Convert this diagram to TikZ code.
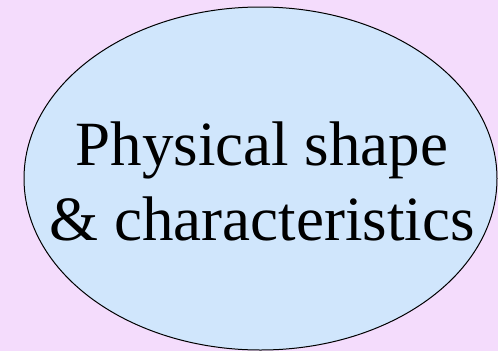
\documentclass[tikz,border=0pt]{standalone}
\usepackage{fontspec}
\setmainfont{Liberation Serif}
\usetikzlibrary{shapes.geometric}
\definecolor{bgpink}{RGB}{244,220,252}
\definecolor{ellblue}{RGB}{208,230,252}
\begin{document}
\begin{tikzpicture}[x=1pt,y=-1pt,
  bubble/.style={ellipse, draw=black, line width=1pt, fill=ellblue, inner sep=0pt, minimum width=473pt, minimum height=343pt},
  label/.style={anchor=base, inner sep=0pt, font=\fontsize{63}{75}\selectfont}]
\fill[bgpink] (0,0) rectangle (498,351);
\useasboundingbox (0,0) rectangle (498,351);
\node[bubble] (e) at (260.5,178.5) {};
\node[label] (l1) at (262,165) {Physical shape};
\node[label] (l2) at (262,240) {\& characteristics};
\end{tikzpicture}
\end{document}
